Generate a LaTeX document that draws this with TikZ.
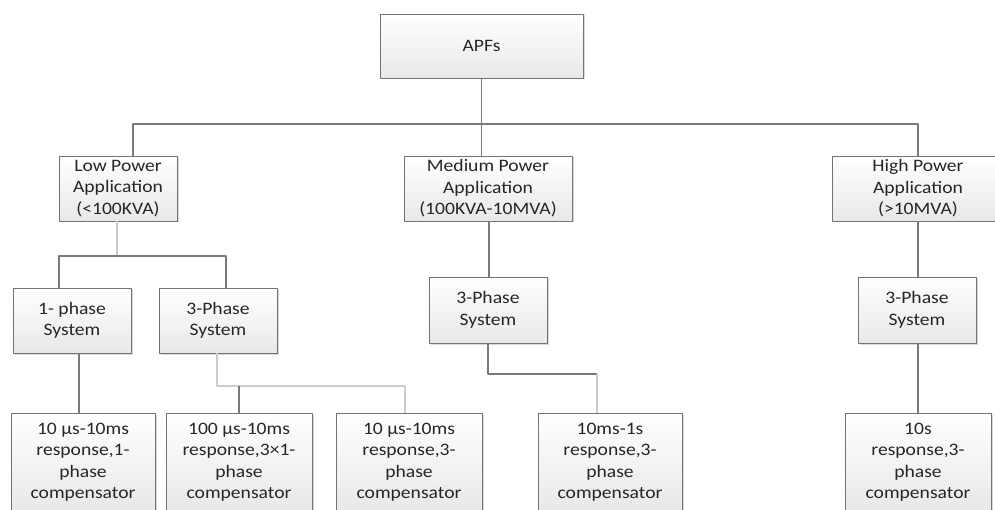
\documentclass[tikz,border=0pt]{standalone}
\usepackage{fontspec}
\setmainfont[FakeStretch=1.12]{Carlito}
\usetikzlibrary{shadows}
\tikzset{
  box/.style={draw=gray!90!black, line width=0.9pt, top color=white, bottom color=gray!18,
    align=center, inner sep=0pt, minimum height=65pt, text=black!85,
    general shadow={shadow xshift=1.5pt, shadow yshift=-1.5pt, fill=gray!30}},
  link/.style={draw=gray!95!black, line width=1.2pt},
  faint/.style={draw=gray!40, line width=1.2pt}
}
\begin{document}
\begin{tikzpicture}[x=1pt, y=-1pt, font=\fontsize{17.5}{21.5}\selectfont, line join=round]
\useasboundingbox (0,0) rectangle (995,510);
\clip (0,0) rectangle (995,510);
\path (0,124) coordinate (busA)
  (0,256) coordinate (busL)
  (0,386) coordinate (busL3)
  (0,374) coordinate (busM);
\node[box, minimum width=203pt, minimum height=64pt] (apfs) at (481.5,46) {APFs};
\node[box, minimum width=118pt] (low) at (118,188.5) {Low Power\\Application\\(<100KVA)};
\node[box, minimum width=168pt] (med) at (488,188.5) {Medium Power\\Application\\(100KVA-10MVA)};
\node[box, minimum width=172pt] (high) at (918,188.5) {High Power\\Application\\(>10MVA)};
\node[box, minimum width=118pt] (lone) at (72,320.5) {1- phase\\System};
\node[box, minimum width=118pt] (lthree) at (218,320.5) {3-Phase\\System};
\node[box, minimum width=118pt, minimum height=66pt] (mthree) at (488,310) {3-Phase\\System};
\node[box, minimum width=118pt, minimum height=66pt] (hthree) at (917,310) {3-Phase\\System};
\foreach \n/\x/\w/\t in {
  bone/83/144/{10 µs-10ms\\response,1-\\phase\\compensator},
  btwo/239/146/{100 µs-10ms\\response,3×1-\\phase\\compensator},
  bthree/409/146/{10 µs-10ms\\response,3-\\phase\\compensator},
  bfour/610/144/{10ms-1s\\response,3-\\phase\\compensator},
  bfive/918/146/{10s\\response,3-\\phase\\compensator}}
  \node[box, minimum width=\w pt, minimum height=98pt] (\n) at (\x,462) {\t};
\draw[link] (apfs.south) -- (apfs.south |- med.north);
\draw[link] ([xshift=15pt]low.north) |- (high.north |- busA) -- (high.north);
\draw[faint] ([xshift=-1pt]low.south) -- ([xshift=-1pt]low.south |- busL);
\draw[link] ([xshift=-13pt]lone.north) |- ([xshift=8pt]lthree.north |- busL) -- ([xshift=8pt]lthree.north);
\draw[link] ([xshift=7pt]lone.south) -- ([xshift=-4pt]bone.north);
\draw[faint] ([xshift=-1pt]lthree.south) |- ([xshift=-4pt]bthree.north |- busL3) -- ([xshift=-4pt]bthree.north);
\draw[link] (btwo.north) -- (btwo.north |- busL3);
\draw[link] ([xshift=1pt]med.south) -- ([xshift=1pt]mthree.north);
\draw[link] (mthree.south) |- ([xshift=-13pt]bfour.north |- busM);
\draw[faint] ([xshift=-13pt]bfour.north |- busM) -- ([xshift=-13pt]bfour.north);
\draw[link] (high.south) -- ([xshift=1pt]hthree.north);
\draw[link] ([xshift=1pt]hthree.south) -- (bfive.north);
\end{tikzpicture}
\end{document}
